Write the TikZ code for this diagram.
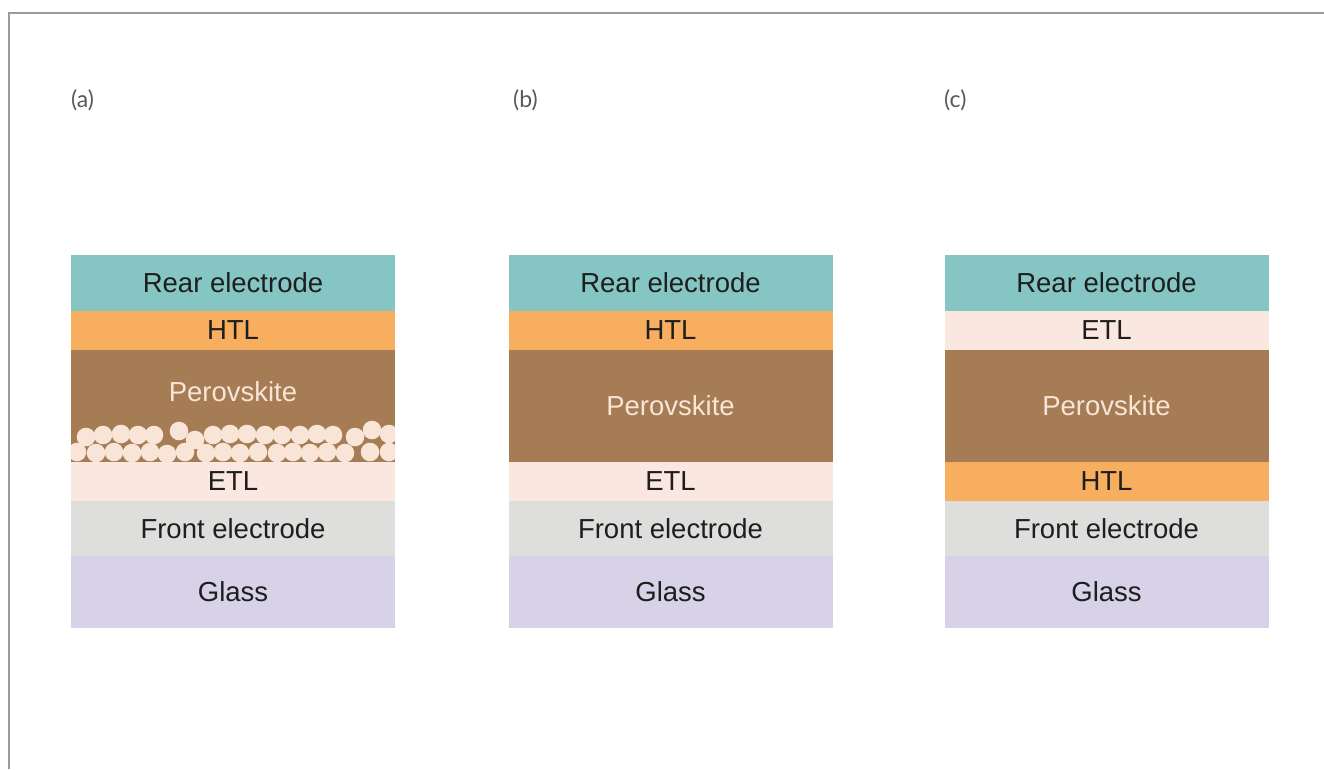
\documentclass[tikz,border=0pt]{standalone}
\usepackage{fontspec}
\setmainfont{Liberation Sans}
\newfontfamily\labfont{Lato}
\definecolor{cRear}{HTML}{85C6C4}
\definecolor{cHTL}{HTML}{F7AE5E}
\definecolor{cPer}{HTML}{A67C55}
\definecolor{cETL}{HTML}{FAE7E0}
\definecolor{cFront}{HTML}{DEDFDD}
\definecolor{cGlass}{HTML}{D7D2E7}
\definecolor{cBall}{HTML}{F8E5D8}
\definecolor{cTxt}{HTML}{1E1E1E}
\definecolor{cBorder}{HTML}{9A9A9A}
\begin{document}
\begin{tikzpicture}[x=1pt,y=-1pt,
  layer/.style={rectangle, inner sep=0pt, minimum width=324pt, font=\fontsize{27.5}{32}\selectfont, text=cTxt},
  perlab/.style={inner sep=0pt, font=\fontsize{27.5}{32}\selectfont, text=cBall},
  panel/.style={inner sep=0pt, anchor=west, font=\labfont\fontsize{23}{27}\selectfont, text=black!65},
  ball/.style={fill=cBall}]
\useasboundingbox (0,0) rectangle (1324,769);
\draw[cBorder, line width=1.5pt] (9,769) -- (9,13) -- (1324,13);
% panel labels
\node[panel] (la) at (71,100) {(a)};
\node[panel] (lb) at (513,100) {(b)};
\node[panel] (lc) at (944,100) {(c)};
% ---------- (a)
\node[layer, fill=cRear, minimum height=56pt] (aRear) at (233,283) {Rear electrode};
\node[layer, fill=cHTL, minimum height=39pt] (aHTL) at (233,330.5) {HTL};
\node[layer, fill=cPer, minimum height=112pt] (aPer) at (233,406) {};
\node[layer, fill=cETL, minimum height=39pt] (aETL) at (233,481.5) {ETL};
\node[layer, fill=cFront, minimum height=55pt] (aFront) at (233,528.5) {Front electrode};
\node[layer, fill=cGlass, minimum height=72pt] (aGlass) at (233,592) {Glass};
\node[perlab] (aPerT) at (233,392) {Perovskite};
\begin{scope}
\clip (aPer.north west) rectangle (aPer.south east);
\foreach \x/\y in {77/452,96/453,114/452,132/453,150/452,167/454,185/452,206/453,223/452,240/453,258/452,277/453,293/452,310/453,327/452,345/453,370/452,389/452}
  \fill[ball] (\x,\y) circle (9.3);
\foreach \x/\y in {86/437,103/435,121/434,138/435,154/435,179/431,195/440,213/435,230/434,247/434,265/435,282/435,300/435,317/434,333/435,355/437,372/430,389/434}
  \fill[ball] (\x,\y) circle (9.3);
\end{scope}
% ---------- (b)
\node[layer, fill=cRear, minimum height=56pt] (bRear) at (670.5,283) {Rear electrode};
\node[layer, fill=cHTL, minimum height=39pt] (bHTL) at (670.5,330.5) {HTL};
\node[layer, fill=cPer, minimum height=112pt, text=cBall] (bPer) at (670.5,406) {Perovskite};
\node[layer, fill=cETL, minimum height=39pt] (bETL) at (670.5,481.5) {ETL};
\node[layer, fill=cFront, minimum height=55pt] (bFront) at (670.5,528.5) {Front electrode};
\node[layer, fill=cGlass, minimum height=72pt] (bGlass) at (670.5,592) {Glass};
% ---------- (c)
\node[layer, fill=cRear, minimum height=56pt] (cRear) at (1106.5,283) {Rear electrode};
\node[layer, fill=cETL, minimum height=39pt] (cETL) at (1106.5,330.5) {ETL};
\node[layer, fill=cPer, minimum height=112pt, text=cBall] (cPer) at (1106.5,406) {Perovskite};
\node[layer, fill=cHTL, minimum height=39pt] (cHTL) at (1106.5,481.5) {HTL};
\node[layer, fill=cFront, minimum height=55pt] (cFront) at (1106.5,528.5) {Front electrode};
\node[layer, fill=cGlass, minimum height=72pt] (cGlass) at (1106.5,592) {Glass};
\end{tikzpicture}
\end{document}
